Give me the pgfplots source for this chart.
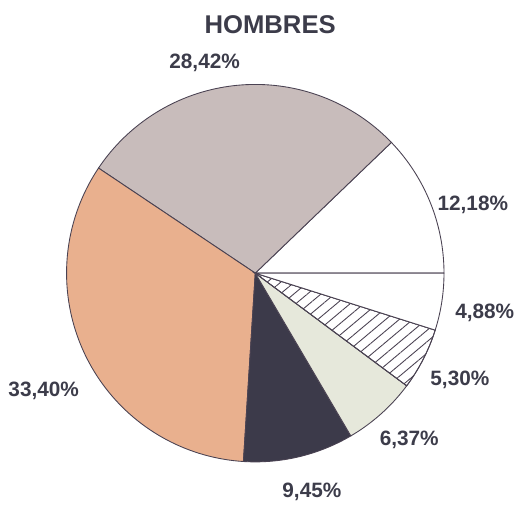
\documentclass[border=0pt]{standalone}
\usepackage{pgfplots}
\pgfplotsset{compat=1.18}
\usetikzlibrary{patterns.meta}
\usepackage{fontspec}
\setmainfont{Liberation Sans}
\definecolor{edge}{HTML}{4A4252}
\definecolor{mauve}{HTML}{C8BCBB}
\definecolor{salmon}{HTML}{E9B08E}
\definecolor{navy}{HTML}{3C3A4A}
\definecolor{pale}{HTML}{E6E8DB}
\definecolor{txt}{HTML}{3C3C4A}
\begin{document}
\begin{tikzpicture}
\begin{axis}[scale only axis, width=10.4cm, height=10.12cm,
  xmin=-257, xmax=263, ymin=-231, ymax=275, hide axis, clip=false]
% invisible frame so that the picture keeps the full axis area
\path (axis cs:-257,-231) rectangle (axis cs:263,275);
% slices: percentages 12.18, 28.42, 33.40, 9.45, 6.37, 5.30, 4.88 (cumulative x 3.6 deg)
\addplot[draw=edge, line width=0.5pt, fill=white, domain={3.6*0}:{3.6*12.18}, samples=40, variable=\t]
  ({190*cos(\t)},{190*sin(\t)}) -- (axis cs:0,0) -- cycle;
\addplot[draw=edge, line width=0.5pt, fill=mauve, domain={3.6*12.18}:{3.6*40.60}, samples=80, variable=\t]
  ({190*cos(\t)},{190*sin(\t)}) -- (axis cs:0,0) -- cycle;
\addplot[draw=edge, line width=0.5pt, fill=salmon, domain={3.6*40.60}:{3.6*74.00}, samples=80, variable=\t]
  ({190*cos(\t)},{190*sin(\t)}) -- (axis cs:0,0) -- cycle;
\addplot[draw=edge, line width=0.5pt, fill=navy, domain={3.6*74.00}:{3.6*83.45}, samples=30, variable=\t]
  ({190*cos(\t)},{190*sin(\t)}) -- (axis cs:0,0) -- cycle;
\addplot[draw=edge, line width=0.5pt, fill=pale, domain={3.6*83.45}:{3.6*89.82}, samples=30, variable=\t]
  ({190*cos(\t)},{190*sin(\t)}) -- (axis cs:0,0) -- cycle;
\addplot[draw=edge, line width=0.5pt, fill=white, domain={3.6*89.82}:{3.6*95.12}, samples=30, variable=\t]
  ({190*cos(\t)},{190*sin(\t)}) -- (axis cs:0,0) -- cycle;
\addplot[draw=edge, line width=0.5pt, pattern={Lines[angle=40,distance=5pt,line width=0.5pt]}, pattern color=edge, domain={3.6*89.82}:{3.6*95.12}, samples=30, variable=\t]
  ({190*cos(\t)},{190*sin(\t)}) -- (axis cs:0,0) -- cycle;
\addplot[draw=edge, line width=0.5pt, fill=white, domain={3.6*95.12}:{3.6*100}, samples=30, variable=\t]
  ({190*cos(\t)},{190*sin(\t)}) -- (axis cs:0,0) -- cycle;
% labels
\node[txt, font=\fontsize{14.7}{16}\selectfont\bfseries] at (axis cs:15,250) {HOMBRES};
\node[txt, font=\fontsize{11.9}{13}\selectfont\bfseries] at (axis cs:-51,212) {28,42\%};
\node[txt, font=\fontsize{11.9}{13}\selectfont\bfseries] at (axis cs:219,69) {12,18\%};
\node[txt, font=\fontsize{11.9}{13}\selectfont\bfseries] at (axis cs:231,-40) {4,88\%};
\node[txt, font=\fontsize{11.9}{13}\selectfont\bfseries] at (axis cs:206,-107) {5,30\%};
\node[txt, font=\fontsize{11.9}{13}\selectfont\bfseries] at (axis cs:155,-168) {6,37\%};
\node[txt, font=\fontsize{11.9}{13}\selectfont\bfseries] at (axis cs:57,-220) {9,45\%};
\node[txt, font=\fontsize{11.9}{13}\selectfont\bfseries] at (axis cs:-213,-118) {33,40\%};
\end{axis}
\end{tikzpicture}
\end{document}
